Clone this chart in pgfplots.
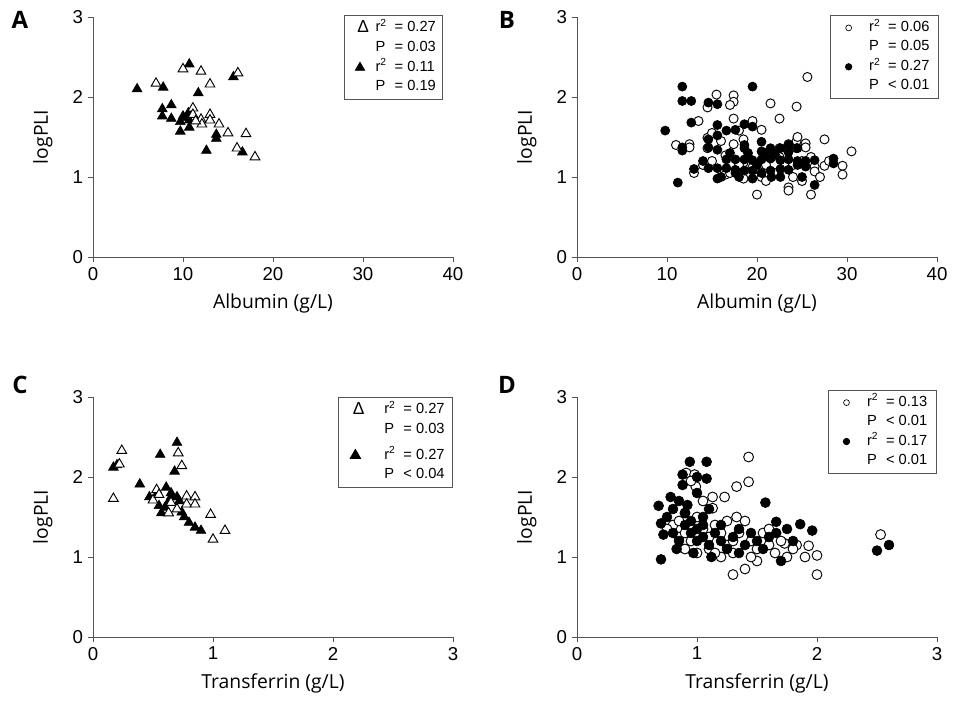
\documentclass[border=0pt]{standalone}
\usepackage{fontspec}
\setmainfont{Liberation Sans}
\newfontfamily\labelfont{Open Sans}
\usepackage{pgfplots}
\pgfplotsset{compat=1.18}
\definecolor{axisgray}{HTML}{555555}

\pgfplotsset{
  panel/.style={
    scale only axis, width=270pt, height=180pt,
    axis lines=left, axis line style={-, draw=axisgray, line width=0.7pt},
    tick style={draw=axisgray, line width=0.7pt}, tick align=outside,
    major tick length=4pt,
    ymin=0, ymax=3, ytick={0,1,2,3},
    tick label style={font=\fontsize{14}{16}\selectfont},
    /pgf/number format/assume math mode=true,
    label style={font=\labelfont\fontsize{14.5}{17}\selectfont},
    ylabel={logPLI},
    ylabel style={at={(axis description cs:-0.139,0.5)}, anchor=center},
    xlabel style={at={(axis description cs:0.5,-0.192)}, anchor=center},
    clip=false,
    legend cell align=left,
    legend style={draw=axisgray, line width=0.6pt, anchor=north east,
      font=\fontsize{11}{12}\selectfont, row sep=0pt,
      inner xsep=3pt, inner ysep=2pt,
      nodes={inner ysep=0pt, text height=10pt, text depth=4.6pt}},
  },
  opentri/.style={only marks, mark=triangle*, mark size=4.2pt,
    mark options={draw=black, fill=white, line width=0.7pt}},
  filltri/.style={only marks, mark=triangle*, mark size=4.2pt,
    mark options={draw=black, fill=black, line width=0.5pt}},
  opencirc/.style={only marks, mark=*, mark size=3.4pt,
    mark options={draw=black, fill=white, line width=0.7pt}},
  fillcirc/.style={only marks, mark=*, mark size=3.4pt,
    mark options={draw=black, fill=black, line width=0.5pt}},
  deltaimg/.style={legend image code/.code={
    \node[inner sep=0pt, font=\fontsize{13}{13}\selectfont] at (0.22cm,-0.6pt) {Δ};}},
  blankimg/.style={legend image code/.code={}},
}
\newcommand{\rr}{\makebox[1.3em][l]{r\textsuperscript{2}}}
\newcommand{\PP}{\makebox[1.3em][l]{P}}

\begin{document}
\begin{tikzpicture}
\path[use as bounding box] (0,0) rectangle (717pt,530.25pt);

% ---------- A ----------
\begin{axis}[panel, at={(69.75pt,337.5pt)}, anchor=south west,
  xmin=0, xmax=40, xtick={0,10,20,30,40}, xlabel={Albumin (g/L)},
  legend style={at={(0.972,1.008)}, column sep=3pt}]
\addplot[filltri, forget plot] coordinates {
  (4.9,2.10) (10.7,2.41) (7.8,2.12) (11.7,2.05) (15.6,2.25) (8.7,1.90)
  (7.7,1.85) (7.7,1.76) (8.7,1.73) (10.0,1.76) (10.6,1.80) (9.7,1.69)
  (10.7,1.71) (10.7,1.62) (9.7,1.57) (13.7,1.53) (13.7,1.48) (12.6,1.33)
  (16.6,1.31) (10.3,1.74)
};
\addplot[opentri, forget plot] coordinates {
  (10.0,2.35) (12.0,2.32) (7.0,2.17) (13.0,2.16) (16.1,2.30) (11.1,1.86)
  (11.1,1.78) (12.0,1.72) (13.0,1.78) (13.0,1.71) (12.1,1.66) (14.0,1.66)
  (15.0,1.55) (17.0,1.54) (16.0,1.36) (18.0,1.25) (11.4,1.70)
};
\addlegendimage{deltaimg}
\addlegendentry{\rr= 0.27}
\addlegendimage{blankimg}
\addlegendentry{\PP= 0.03}
\addlegendimage{only marks, mark=triangle*, mark size=4pt, black}
\addlegendentry{\rr= 0.11}
\addlegendimage{blankimg}
\addlegendentry{\PP= 0.19}
\end{axis}

% ---------- B ----------
\begin{axis}[panel, at={(432.75pt,337.5pt)}, anchor=south west,
  xmin=0, xmax=40, xtick={0,10,20,30,40}, xlabel={Albumin (g/L)},
  legend style={at={(1.006,1.008)}, column sep=11pt, inner xsep=5pt}]
\addplot[opencirc, forget plot] coordinates {
  (15.5,2.03) (17.4,2.02) (17.4,1.94) (14.5,1.87) (21.5,1.92) (24.4,1.88)
  (25.6,2.25) (22.5,1.73) (17.4,1.73) (13.5,1.70) (20.5,1.59) (14.5,1.49)
  (14.5,1.36) (12.5,1.41) (17.4,1.41) (18.5,1.47) (16.5,1.27) (23.5,1.41)
  (24.4,1.45) (24.4,1.36) (22.5,1.36) (22.5,1.25) (18.5,1.18) (19.5,1.12)
  (16.5,1.03) (18.5,0.98) (20.5,1.00) (24.5,1.50) (25.4,1.42) (25.4,1.37)
  (27.5,1.47) (30.5,1.32) (27.5,1.14) (29.5,1.14) (29.5,1.03) (26.4,1.13)
  (26.4,1.07) (23.5,0.87) (23.5,0.83) (20.0,0.78) (26.0,0.78) (11.0,1.40)
  (15.0,1.20) (13.0,1.05) (21.0,1.30) (19.0,1.25) (20.0,1.10) (21.0,1.15)
  (22.0,1.05) (24.0,1.00) (25.0,1.20) (26.0,1.25) (27.0,1.00) (28.0,1.20)
  (16.0,1.45) (15.0,1.55) (18.0,1.58) (12.5,1.37) (18.0,1.15) (21.0,0.95)
  (24.0,1.15) (25.0,0.95) (17.0,1.90) (19.5,1.70) (17.0,1.05) (14.0,1.15)
};
\addplot[fillcirc, forget plot] coordinates {
  (11.7,2.13) (19.5,2.13) (11.7,1.95) (12.7,1.95) (14.6,1.93) (15.6,1.91)
  (9.8,1.58) (12.7,1.68) (15.6,1.65) (16.6,1.58) (17.6,1.59) (18.6,1.66)
  (19.5,1.63) (15.6,1.52) (11.7,1.37) (11.7,1.33) (14.6,1.47) (14.6,1.37)
  (15.6,1.34) (18.6,1.40) (18.6,1.36) (20.5,1.44) (20.5,1.32) (21.5,1.36)
  (22.6,1.36) (23.5,1.40) (24.5,1.36) (16.6,1.22) (17.6,1.22) (18.6,1.22)
  (19.5,1.21) (20.5,1.22) (21.5,1.23) (22.6,1.21) (23.5,1.22) (14.6,1.11)
  (15.6,1.11) (16.6,1.11) (17.6,1.09) (17.6,1.05) (18.6,1.08) (19.5,1.08)
  (20.5,1.05) (21.5,1.08) (22.6,1.10) (11.2,0.93) (15.6,0.98) (21.6,1.25)
  (23.5,1.31) (24.5,1.20) (24.5,1.15) (25.4,1.20) (25.4,1.13) (26.4,1.21)
  (28.5,1.23) (28.5,1.17) (26.4,0.90) (23.5,1.09) (22.6,1.00) (21.6,1.00)
  (13.0,1.10) (17.0,1.30) (19.0,1.30) (20.0,1.15) (21.0,1.30) (22.0,1.28)
  (18.0,1.00) (19.5,0.98) (16.0,1.00) (25.0,1.00) (14.0,1.20)
};
\addlegendimage{only marks, mark=*, mark size=2.2pt, mark options={draw=black, fill=white, line width=0.5pt}}
\addlegendentry{\rr= 0.06}
\addlegendimage{blankimg}
\addlegendentry{\PP= 0.05}
\addlegendimage{only marks, mark=*, mark size=2.4pt, black}
\addlegendentry{\rr= 0.27}
\addlegendimage{blankimg}
\addlegendentry{\PP< 0.01}
\end{axis}

% ---------- C ----------
\begin{axis}[panel, at={(69.75pt,52.5pt)}, anchor=south west,
  xmin=0, xmax=3, xtick={0,1,2,3}, xlabel={Transferrin (g/L)},
  legend style={at={(1.0,1.0)}, column sep=13pt, inner xsep=4pt}]
\addplot[filltri, forget plot] coordinates {
  (0.17,2.12) (0.20,2.15) (0.56,2.28) (0.70,2.43) (0.68,2.07) (0.39,1.91)
  (0.47,1.75) (0.53,1.78) (0.61,1.87) (0.65,1.80) (0.65,1.75) (0.63,1.69)
  (0.70,1.75) (0.55,1.64) (0.57,1.55) (0.74,1.56) (0.76,1.50) (0.80,1.43)
  (0.85,1.37) (0.90,1.33) (0.60,1.62) (0.72,1.70)
};
\addplot[opentri, forget plot] coordinates {
  (0.24,2.33) (0.22,2.16) (0.17,1.73) (0.71,2.30) (0.74,2.14) (0.53,1.84)
  (0.50,1.71) (0.78,1.76) (0.85,1.75) (0.78,1.66) (0.85,1.66) (0.65,1.68)
  (0.63,1.55) (0.98,1.53) (1.00,1.22) (1.10,1.33) (0.55,1.78) (0.70,1.60)
};
\addlegendimage{deltaimg}
\addlegendentry{\rr= 0.27}
\addlegendimage{blankimg}
\addlegendentry[text depth=9pt]{\PP= 0.03}
\addlegendimage{only marks, mark=triangle*, mark size=4.5pt, black}
\addlegendentry{\rr= 0.27}
\addlegendimage{blankimg}
\addlegendentry{\PP< 0.04}
\end{axis}

% ---------- D ----------
\begin{axis}[panel, at={(432.75pt,52.5pt)}, anchor=south west,
  xmin=0, xmax=3, xtick={0,1,2,3}, xlabel={Transferrin (g/L)},
  legend style={at={(1.0,1.03)}, column sep=11pt, inner xsep=5pt}]
\addplot[opencirc, mark size=3.7pt, forget plot] coordinates {
  (1.43,2.25) (1.43,1.94) (1.33,1.88) (1.23,1.75) (1.13,1.75) (1.13,1.61)
  (0.91,2.05) (0.98,2.03) (0.99,1.88) (0.95,1.95) (1.33,1.50) (1.73,1.17)
  (1.83,1.15) (1.93,1.14) (2.53,1.28) (2.00,0.78) (1.30,0.78) (2.00,1.02)
  (0.80,1.40) (0.85,1.45) (0.90,1.55) (1.00,1.50) (1.05,1.35) (1.10,1.25)
  (1.15,1.40) (1.20,1.30) (1.25,1.15) (1.30,1.05) (1.35,1.30) (1.40,1.45)
  (1.45,1.20) (1.50,1.10) (1.55,1.30) (1.60,1.15) (1.65,1.05) (1.70,1.20)
  (1.80,1.10) (1.50,0.95) (1.40,0.85) (1.20,1.00) (1.00,1.05) (0.95,1.20)
  (0.85,1.25) (0.75,1.35) (1.10,1.10) (1.30,1.20) (0.90,1.30) (1.60,1.35)
  (1.45,1.00) (1.90,1.00) (1.75,1.00) (1.25,1.45) (1.05,1.70) (0.90,1.10)
  (1.15,1.05)
};
\addplot[fillcirc, mark size=3.7pt, forget plot] coordinates {
  (0.94,2.19) (1.08,2.19) (0.88,2.03) (1.00,2.00) (1.08,1.98) (0.68,1.64)
  (1.57,1.68) (1.86,1.41) (1.96,1.33) (1.66,1.44) (1.66,1.30) (2.50,1.08)
  (2.60,1.15) (0.70,0.97) (1.70,0.95) (0.70,1.42) (0.75,1.50) (0.80,1.60)
  (0.85,1.70) (0.90,1.55) (0.95,1.45) (1.00,1.35) (1.05,1.50) (0.80,1.30)
  (0.85,1.20) (0.90,1.40) (0.95,1.30) (1.00,1.20) (1.05,1.25) (1.10,1.15)
  (1.15,1.30) (1.20,1.20) (1.25,1.10) (1.30,1.25) (1.35,1.35) (1.40,1.15)
  (1.45,1.30) (1.50,1.20) (1.55,1.10) (1.60,1.25) (1.75,1.35) (1.80,1.20)
  (0.78,1.75) (0.92,1.65) (1.00,1.80) (1.10,1.60) (1.20,1.40) (0.83,1.10)
  (0.97,1.05) (1.12,1.00) (1.35,1.05) (0.72,1.28) (0.88,1.90) (1.05,1.40)
};
\addlegendimage{only marks, mark=*, mark size=2.2pt, mark options={draw=black, fill=white, line width=0.5pt}}
\addlegendentry{\rr= 0.13}
\addlegendimage{blankimg}
\addlegendentry{\PP< 0.01}
\addlegendimage{only marks, mark=*, mark size=2.4pt, black}
\addlegendentry{\rr= 0.17}
\addlegendimage{blankimg}
\addlegendentry{\PP< 0.01}
\end{axis}

% panel letters
\node[font=\labelfont\bfseries\fontsize{18}{20}\selectfont] at (15pt,515.25pt) {A};
\node[font=\labelfont\bfseries\fontsize{18}{20}\selectfont] at (380.25pt,515.25pt) {B};
\node[font=\labelfont\bfseries\fontsize{18}{20}\selectfont] at (15pt,241.5pt) {C};
\node[font=\labelfont\bfseries\fontsize{18}{20}\selectfont] at (380.25pt,241.5pt) {D};
\end{tikzpicture}
\end{document}
